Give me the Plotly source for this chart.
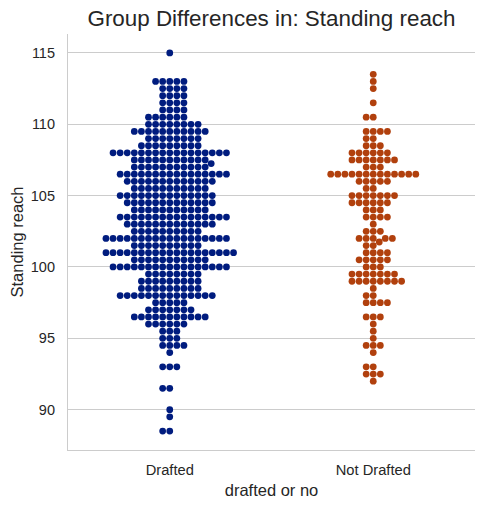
import numpy as np
import plotly.graph_objects as go

# values: standing reach level -> number of players
categories = ["Drafted", "Not Drafted"]

drafted_reach = [115, 113, 112.5, 112, 111.5, 111, 110.5, 110, 109.5, 109,
                 108.5, 108, 107.5, 107.25, 107, 106.5, 106, 105.5, 105, 104.5,
                 104, 103.5, 103, 102.5, 102, 101.5, 101, 100.5, 100, 99.5,
                 99, 98.5, 98, 97.5, 97, 96.5, 96, 95.5, 95, 94.5,
                 94, 93, 91.5, 90, 89.5, 88.5]
drafted_count = [1, 5, 4, 4, 4, 4, 6, 8, 11, 8,
                 9, 17, 11, 1, 11, 16, 13, 11, 14, 13,
                 11, 16, 13, 10, 18, 10, 19, 11, 17, 8,
                 9, 9, 14, 5, 7, 11, 6, 3, 3, 4,
                 1, 3, 2, 1, 1, 2]

not_drafted_reach = [113.5, 113, 112.5, 111.5, 110.5, 109.5, 109, 108.5, 108, 107.5,
                     107, 106.5, 106, 105.5, 105, 104.5, 104, 103.5, 103, 102.5,
                     102, 101.75, 101.5, 101, 100.5, 100, 99.5, 99, 98.5, 98,
                     97.5, 96.5, 96, 95.5, 95, 94.5, 94, 93, 92.5, 92]
not_drafted_count = [1, 1, 1, 1, 2, 4, 2, 3, 6, 7,
                     3, 13, 5, 2, 7, 6, 3, 4, 1, 3,
                     5, 1, 2, 4, 5, 3, 7, 8, 1, 2,
                     4, 3, 1, 1, 1, 3, 1, 2, 3, 1]

colors = ["#001c7f", "#b1400d"]

# figure geometry (px); body margin is removed in the page, see post_script
W, H = 484, 508
ml, mr, mt, mb = 68, 9, 34, 58
x_range = [-0.5, 1.5]
y_range = [87.175, 116.325]
px_x = (W - ml - mr) / (x_range[1] - x_range[0])
px_y = (H - mt - mb) / (y_range[1] - y_range[0])
diam = 6.75


def beeswarm(values):
    # seaborn-like swarm placement, done in pixel space
    ys = np.sort(np.asarray(values, float)) * px_y
    r = diam / 2
    placed = []
    for yi in ys:
        near = []
        for xj, yj in reversed(placed):
            if yi - yj < 2 * r:
                near.append((xj, yj))
            else:
                break
        cands = [0.0]
        left = True
        for xj, yj in near:
            dx = np.sqrt(max(4 * r * r - (yi - yj) ** 2, 0)) * 1.05
            cands += [xj - dx, xj + dx] if left else [xj + dx, xj - dx]
            left = not left
        cands = np.array(cands)
        cands = cands[np.argsort(np.abs(cands), kind="stable")]
        pick = cands[0]
        for c in cands:
            if all((c - xj) ** 2 + (yi - yj) ** 2 >= 4 * r * r - 1e-9 for xj, yj in near):
                pick = c
                break
        placed.append((pick, yi))
    xo = np.array([p[0] for p in placed]) / px_x
    yv = np.array([p[1] for p in placed]) / px_y
    return xo, yv


groups = [
    np.repeat(drafted_reach, drafted_count),
    np.repeat(not_drafted_reach, not_drafted_count),
]

fig = go.Figure()
for i, vals in enumerate(groups):
    xo, yv = beeswarm(vals)
    fig.add_trace(go.Scatter(
        x=i + xo, y=yv, mode="markers", name=categories[i],
        marker=dict(size=diam, color=colors[i], line=dict(width=0)),
        hoverinfo="y",
    ))

font = "Liberation Sans, Arial, sans-serif"
fig.update_layout(
    width=W, height=H,
    margin=dict(l=ml, r=mr, t=mt, b=mb),
    paper_bgcolor="white", plot_bgcolor="white",
    showlegend=False,
    font=dict(family=font, color="#262626", size=14.5),
    title=dict(text="Group Differences in: Standing reach",
               x=(ml + (W - mr)) / 2 / W, xanchor="center",
               y=1 - 18.5 / H, yanchor="middle",
               font=dict(size=22.4, color="#262626")),
)
fig.update_xaxes(
    range=x_range, tickvals=[0, 1], ticktext=categories,
    showgrid=False, zeroline=False, automargin=False,
    showline=True, linecolor="#cccccc", linewidth=1.2,
    ticks="outside", ticklen=6, tickcolor="rgba(0,0,0,0)",
    tickfont=dict(size=14.7),
    title=dict(text="drafted or no", font=dict(size=16.5), standoff=7),
)
fig.update_yaxes(
    range=y_range, tickvals=[90, 95, 100, 105, 110, 115],
    showgrid=True, gridcolor="#cccccc", gridwidth=1.2, zeroline=False,
    automargin=False,
    showline=True, linecolor="#cccccc", linewidth=1.2,
    ticks="outside", ticklen=9, tickcolor="rgba(0,0,0,0)",
    tickfont=dict(size=14.5),
    title=dict(text="Standing reach", font=dict(size=16.5), standoff=3),
)

fig.write_html("out.html",
               config={"displayModeBar": False},
               post_script="document.body.style.margin = '0';")
